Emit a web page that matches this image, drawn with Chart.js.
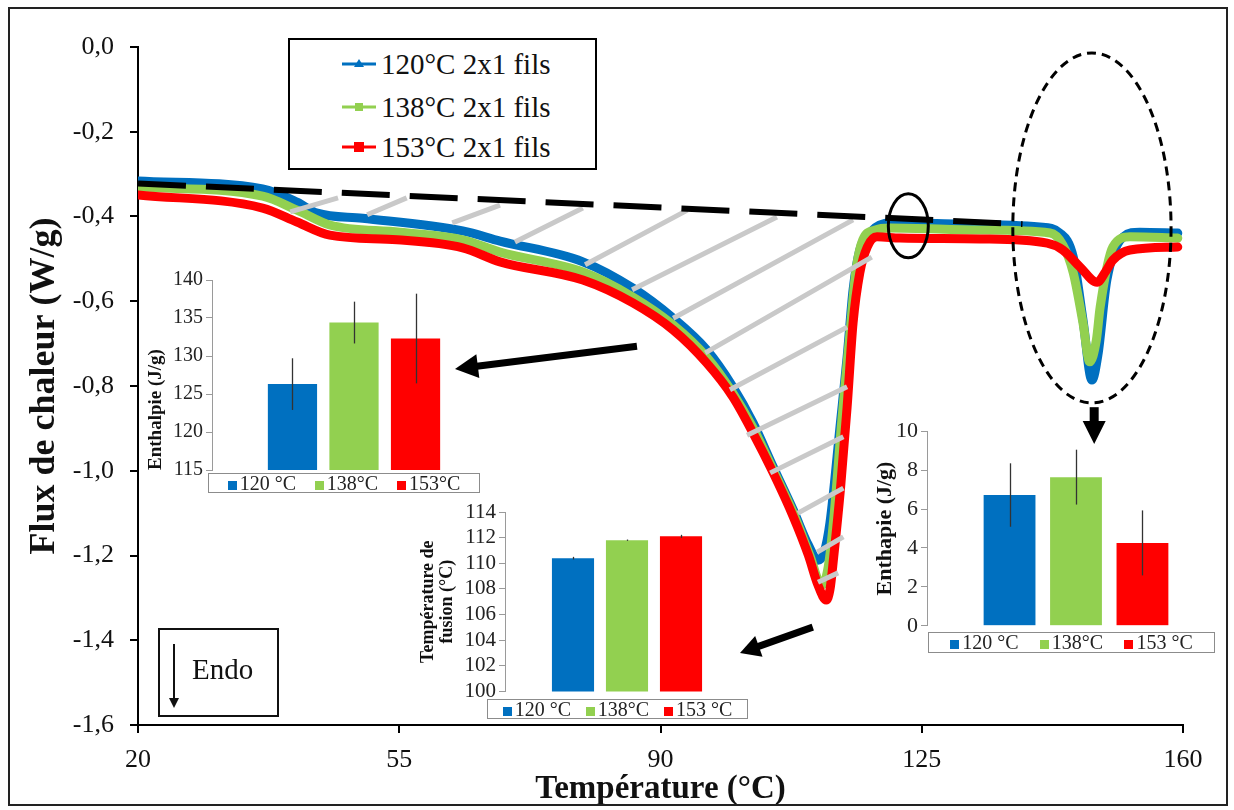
<!DOCTYPE html>
<html><head><meta charset="utf-8">
<script src="https://cdn.jsdelivr.net/npm/chart.js@4.4.1/dist/chart.umd.min.js"></script>
<style>
html,body{margin:0;padding:0;background:#fff;}
#wrap{position:relative;width:1234px;height:810px;overflow:hidden;font-family:'Liberation Serif','Times New Roman',serif;background:#fff;}
canvas{position:absolute;}
#frame{position:absolute;left:8px;top:7px;width:1220px;height:799px;border:2px solid #222;box-sizing:border-box;}
#legend{position:absolute;left:288px;top:38px;width:309px;height:132px;border:2px solid #000;box-sizing:border-box;background:#fff;}
.lrow{position:absolute;left:50px;height:34px;display:flex;align-items:center;font-size:29px;color:#111;white-space:nowrap;}
.lrow svg{margin-right:3px;}
#endo{position:absolute;left:158px;top:628px;width:121px;height:89px;border:2px solid #111;box-sizing:border-box;background:#fff;}
#endo span{position:absolute;left:32px;top:23px;font-size:29px;color:#111;}
#endo svg{position:absolute;left:6px;top:12px;}
.ilg{position:absolute;border:1px solid #8c8c8c;box-sizing:border-box;display:flex;justify-content:space-evenly;align-items:center;font-size:20px;color:#222;background:#fff;white-space:nowrap;}
.ilg i{display:inline-block;width:9px;height:9px;margin-right:3px;}
</style>
</head><body>
<div id="wrap">
<canvas id="main" width="1234" height="810" style="left:0;top:0"></canvas>
<div id="frame"></div>
<div id="legend">
 <div class="lrow" style="top:7px"><svg width="38" height="20"><line x1="2" y1="10" x2="36" y2="10" stroke="#0070C0" stroke-width="3"/><polygon points="19,5 24,13 14,13" fill="#0070C0"/></svg><span>120°C 2x1 fils</span></div>
 <div class="lrow" style="top:50px"><svg width="38" height="20"><line x1="2" y1="10" x2="36" y2="10" stroke="#92D050" stroke-width="3"/><rect x="15" y="6" width="8" height="8" fill="#92D050"/></svg><span>138°C 2x1 fils</span></div>
 <div class="lrow" style="top:90px"><svg width="38" height="20"><line x1="2" y1="10" x2="36" y2="10" stroke="#FF0000" stroke-width="3"/><rect x="14" y="5" width="10" height="10" fill="#FF0000"/></svg><span>153°C 2x1 fils</span></div>
</div>
<div id="endo"><svg width="20" height="70"><line x1="8" y1="2" x2="8" y2="58" stroke="#111" stroke-width="2"/><polygon points="3,56 13,56 8,66" fill="#111"/></svg><span>Endo</span></div>

<canvas id="ins1" width="360" height="220" style="left:140px;top:265px"></canvas>
<canvas id="ins2" width="355" height="212" style="left:400px;top:495px"></canvas>
<canvas id="ins3" width="360" height="227" style="left:870px;top:415px"></canvas>
<div class="ilg" id="lg1" style="left:208px;top:473px;width:272px;height:20px"></div>
<div class="ilg" id="lg2" style="left:487px;top:699px;width:261px;height:20px"></div>
<div class="ilg" id="lg3" style="left:928px;top:632px;width:287px;height:21px"></div>
</div>
<script>
// ---------- main DSC curves (Température °C, Flux W/g) ----------
const blueT = [20, 36.7, 41.3, 44.0, 50.1, 63.5, 68.5, 79.6, 86.3, 91.7, 96.2, 99.7, 102.4, 105.1, 107.8, 109.8, 111.1, 111.9, 112.7, 114.1, 115.0, 115.8, 116.7, 118.1, 120.8, 130.1, 140.8, 143.5, 145.3, 146.6, 147.8, 148.6, 149.8, 152.0, 154.2, 159.3];
const blueV = [-0.316, -0.335, -0.366, -0.392, -0.404, -0.434, -0.458, -0.507, -0.569, -0.640, -0.715, -0.802, -0.887, -0.991, -1.093, -1.175, -1.211, -1.194, -1.123, -0.887, -0.732, -0.573, -0.479, -0.437, -0.415, -0.418, -0.425, -0.439, -0.496, -0.644, -0.786, -0.727, -0.550, -0.448, -0.437, -0.439];
const greenT = [20, 36.7, 41.3, 45.7, 55.1, 63.5, 68.5, 79.6, 86.3, 91.7, 96.2, 99.7, 102.4, 105.1, 107.8, 110.0, 111.6, 112.4, 113.2, 114.3, 115.3, 116.2, 117.1, 118.7, 120.8, 132.8, 142.2, 143.9, 145.3, 146.6, 147.5, 148.4, 148.9, 150.6, 152.9, 159.3];
const greenV = [-0.330, -0.352, -0.385, -0.420, -0.437, -0.455, -0.484, -0.531, -0.590, -0.656, -0.732, -0.817, -0.899, -0.998, -1.100, -1.199, -1.270, -1.234, -1.116, -0.880, -0.691, -0.526, -0.455, -0.432, -0.427, -0.432, -0.439, -0.467, -0.533, -0.651, -0.743, -0.691, -0.614, -0.472, -0.448, -0.451];
const redT = [20, 36.7, 41.3, 45.7, 54.7, 63.5, 68.5, 79.6, 86.3, 91.7, 96.2, 99.7, 102.4, 105.1, 107.8, 109.8, 111.1, 112.2, 112.7, 113.2, 114.1, 115.0, 115.8, 116.7, 117.7, 119.0, 122.1, 132.8, 141.8, 143.9, 146.2, 148.5, 149.6, 150.6, 152.9, 159.3];
const redV = [-0.349, -0.380, -0.413, -0.444, -0.455, -0.474, -0.507, -0.550, -0.604, -0.668, -0.746, -0.826, -0.911, -1.005, -1.109, -1.199, -1.270, -1.305, -1.281, -1.204, -1.045, -0.850, -0.651, -0.533, -0.472, -0.448, -0.451, -0.453, -0.463, -0.479, -0.519, -0.555, -0.531, -0.503, -0.479, -0.472];
const seriesLabels = ['120°C 2x1 fils', '138°C 2x1 fils', '153°C 2x1 fils'];
// baseline (dashed)
const baseT = [20, 138.5];
const baseV = [-0.322, -0.418];
// hatch segments [T1, V1, T2, V2]
const hatchSegments = [
 [40.4,-0.389,46.8,-0.356],[50.7,-0.396,56.0,-0.356],[62.1,-0.415,68.5,-0.373],
 [70.5,-0.460,79.6,-0.380],[79.9,-0.514,93.6,-0.385],[86.2,-0.573,105.6,-0.401],
 [91.7,-0.640,115.8,-0.408],[96.0,-0.722,118.3,-0.496],[99.3,-0.809,115.0,-0.661],
 [101.6,-0.916,115.0,-0.802],[104.7,-1.005,114.5,-0.920],[108.4,-1.100,114.5,-1.041],
 [111.0,-1.192,114.5,-1.156],[111.1,-1.263,113.8,-1.241]
];
// annotations (data coordinates)
const ellipseMarks = [
 {cx:123.2, cy:-0.422, rx:2.68, ry:0.0755, dash:[]},
 {cx:147.8, cy:-0.427, rx:10.6, ry:0.413, dash:[9,6]}
];
const arrowMarks = [
 {t1:86.85, v1:-0.706, t2:62.47, v2:-0.760, w:7, hl:23, hw:24},
 {t1:110.4, v1:-1.369, t2:100.65, v2:-1.430, w:7, hl:20, hw:22},
 {t1:148.1, v1:-0.850, t2:148.1, v2:-0.937, w:9, hl:23, hw:23}
];
// ---------- inset bar charts ----------
const insetCats1 = ['120 °C', '138°C', '153°C'];
const meltEnthalpy = [126.3, 134.4, 132.3];
const meltEnthalpyErr = [3.4, 2.75, 5.9];
const insetCats2 = ['120 °C', '138°C', '153 °C'];
const meltTemp = [110.4, 111.8, 112.1];
const meltTempErr = [0.1, 0.05, 0.12];
const insetCats3 = ['120 °C', '138°C', '153 °C'];
const smallEnthalpy = [6.72, 7.64, 4.26];
const smallEnthalpyErr = [1.63, 1.41, 1.67];
const barColors = ['#0070C0', '#92D050', '#FF0000'];

const SERIF = "'Liberation Serif','Times New Roman',serif";
Chart.defaults.font.family = SERIF;
Chart.defaults.color = '#111';

const pts = (T, V) => T.map((t, i) => ({x: t, y: V[i]}));
const hatchPts = [];
hatchSegments.forEach(s => { hatchPts.push({x:s[0], y:s[1]}, {x:s[2], y:s[3]}, {x:s[2], y:null}); });

const overlayPlugin = {
 id: 'overlay',
 afterDatasetsDraw(chart) {
  const {ctx, scales: {x, y}} = chart;
  ctx.save();
  ctx.strokeStyle = '#000';
  ellipseMarks.forEach(e => {
   const cx = x.getPixelForValue(e.cx), cy = y.getPixelForValue(e.cy);
   const rx = Math.abs(x.getPixelForValue(e.cx + e.rx) - cx);
   const ry = Math.abs(y.getPixelForValue(e.cy + e.ry) - cy);
   ctx.beginPath(); ctx.setLineDash(e.dash); ctx.lineWidth = 3;
   ctx.ellipse(cx, cy, rx, ry, 0, 0, Math.PI * 2); ctx.stroke();
  });
  ctx.setLineDash([]);
  ctx.fillStyle = '#000';
  arrowMarks.forEach(a => {
   const x1 = x.getPixelForValue(a.t1), y1 = y.getPixelForValue(a.v1);
   const x2 = x.getPixelForValue(a.t2), y2 = y.getPixelForValue(a.v2);
   const ang = Math.atan2(y2 - y1, x2 - x1);
   const bx = x2 - a.hl * Math.cos(ang), by = y2 - a.hl * Math.sin(ang);
   ctx.beginPath(); ctx.lineWidth = a.w; ctx.lineCap = 'butt';
   ctx.moveTo(x1, y1); ctx.lineTo(bx + Math.cos(ang), by + Math.sin(ang)); ctx.stroke();
   const px = -Math.sin(ang) * a.hw / 2, py = Math.cos(ang) * a.hw / 2;
   ctx.beginPath(); ctx.moveTo(x2, y2); ctx.lineTo(bx + px, by + py); ctx.lineTo(bx - px, by - py); ctx.closePath(); ctx.fill();
  });
  ctx.restore();
 }
};

const curveDs = (label, T, V, color, order) => ({
 label, data: pts(T, V), borderColor: color, backgroundColor: color, borderWidth: 9,
 pointRadius: 0, cubicInterpolationMode: 'monotone', borderJoinStyle: 'round', borderCapStyle: 'round', order
});

new Chart(document.getElementById('main'), {
 type: 'line',
 data: { datasets: [
  {label: 'baseline', data: pts(baseT, baseV), borderColor: '#000', borderWidth: 6, borderDash: [48, 20], pointRadius: 0, order: 0},
  {label: 'hatch', data: hatchPts, borderColor: '#c9c9c9', borderWidth: 5, pointRadius: 0, spanGaps: false, tension: 0, order: 1},
  curveDs(seriesLabels[2], redT, redV, '#FF0000', 2),
  curveDs(seriesLabels[1], greenT, greenV, '#92D050', 3),
  curveDs(seriesLabels[0], blueT, blueV, '#0070C0', 4)
 ]},
 options: {
  responsive: false, animation: false, devicePixelRatio: 1,
  layout: {padding: {left: 22, top: 47, right: 51, bottom: 2}},
  plugins: {legend: {display: false}, tooltip: {enabled: false}},
  scales: {
   x: {type: 'linear', min: 20, max: 160,
    afterFit: s => { s.height = 810 - 725 - 2; },
    ticks: {stepSize: 35, font: {size: 26}, color: '#111', padding: 12, maxRotation: 0},
    grid: {display: true, drawOnChartArea: false, drawTicks: true, tickLength: 8, color: '#000', lineWidth: 2},
    border: {display: true, color: '#000', width: 2},
    title: {display: true, text: 'Température (°C)', font: {size: 33, weight: 'bold', lineHeight: 1.1}, color: '#111', padding: {top: 0, bottom: 0}}
   },
   y: {type: 'linear', min: -1.6, max: 0,
    afterFit: s => { s.width = 138 - 22; },
    ticks: {stepSize: 0.2, font: {size: 26}, color: '#111', padding: 16,
     callback: v => (Math.abs(v) < 1e-9 ? 0 : v).toFixed(1).replace('.', ',')},
    grid: {display: true, drawOnChartArea: false, drawTicks: true, tickLength: 8, color: '#000', lineWidth: 2},
    border: {display: true, color: '#000', width: 2},
    title: {display: true, text: 'Flux de chaleur (W/g)', font: {size: 36, weight: 'bold', lineHeight: 1.1}, color: '#111', padding: {top: 3, bottom: 0}}
   }
  }
 },
 plugins: [overlayPlugin]
});

// ---------- insets ----------
const errorBarPlugin = {
 id: 'errorBars',
 afterDatasetsDraw(chart, args, opts) {
  const {ctx} = chart, ys = chart.scales.y;
  ctx.save(); ctx.strokeStyle = '#333'; ctx.lineWidth = 1.3;
  chart.data.datasets.forEach((ds, i) => {
   const el = chart.getDatasetMeta(i).data[0];
   const v = ds.data[0], e = opts.errors[i];
   ctx.beginPath();
   ctx.moveTo(Math.round(el.x) + 0.5, ys.getPixelForValue(v + e));
   ctx.lineTo(Math.round(el.x) + 0.5, ys.getPixelForValue(v - e));
   ctx.stroke();
  });
  ctx.restore();
 }
};

function makeInset(id, cats, vals, errs, yMin, yMax, step, title, cfg) {
 new Chart(document.getElementById(id), {
  type: 'bar',
  data: {labels: [''], datasets: cats.map((c, i) => ({label: c, data: [vals[i]], backgroundColor: barColors[i],
   categoryPercentage: cfg.cat, barPercentage: cfg.bar}))},
  options: {
   responsive: false, animation: false, devicePixelRatio: 1,
   layout: {padding: {left: 0, top: cfg.top, right: cfg.right, bottom: 0}},
   plugins: {legend: {display: false}, tooltip: {enabled: false}, errorBars: {errors: errs}},
   scales: {
    x: {display: false},
    y: {min: yMin, max: yMax,
     afterFit: s => { s.width = cfg.yw; },
     ticks: {stepSize: step, font: {size: cfg.tick}, color: '#222', padding: 3, autoSkip: false},
     grid: {display: true, drawOnChartArea: false, drawTicks: true, tickLength: 6, color: '#9a9a9a', lineWidth: 1},
     border: {display: true, color: '#9a9a9a', width: 1},
     title: {display: true, text: title, align: cfg.talign, font: {size: cfg.tsize, weight: 'bold', lineHeight: 1.1}, color: '#111', padding: {top: cfg.tpad, bottom: 0}}
    }
   }
  },
  plugins: [errorBarPlugin]
 });
 const lg = document.getElementById(cfg.lg);
 cats.forEach((c, i) => {
  const s = document.createElement('span');
  s.innerHTML = '<i style="background:' + barColors[i] + '"></i>' + c;
  lg.appendChild(s);
 });
}

makeInset('ins1', insetCats1, meltEnthalpy, meltEnthalpyErr, 115, 140, 5, 'Enthalpie (J/g)',
 {top: 15, right: 4, yw: 72, cat: 0.65, bar: 0.8, tick: 20, tsize: 19, tpad: 6, talign: 'start', lg: 'lg1'});
makeInset('ins2', insetCats2, meltTemp, meltTempErr, 100, 114, 2, ['Température de', 'fusion (°C)'],
 {top: 17, right: 6, yw: 105, cat: 0.664, bar: 0.78, tick: 21, tsize: 18, tpad: 18, talign: 'center', lg: 'lg2'});
makeInset('ins3', insetCats3, smallEnthalpy, smallEnthalpyErr, 0, 10, 2, 'Enthapie (J/g)',
 {top: 16, right: 5, yw: 57, cat: 0.669, bar: 0.78, tick: 22, tsize: 22, tpad: 3, talign: 'center', lg: 'lg3'});
</script>
</body></html>
